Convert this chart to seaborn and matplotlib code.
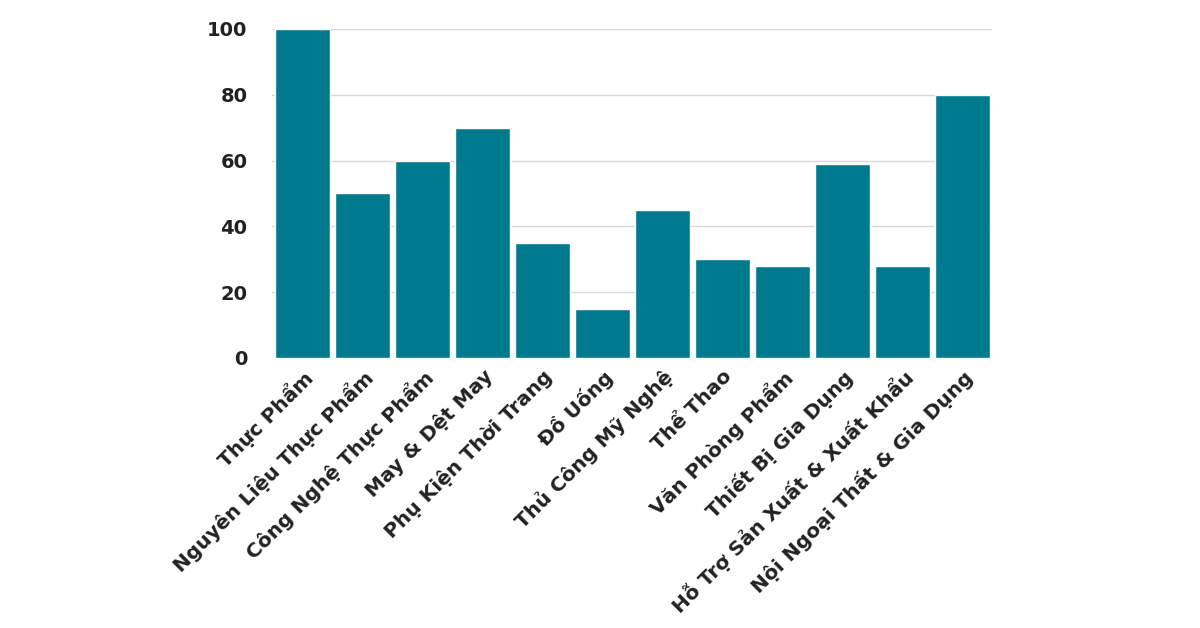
import matplotlib
matplotlib.use("Agg")
import matplotlib.pyplot as plt
import seaborn as sns
import pandas as pd

categories = ["Thực Phẩm", "Nguyên Liệu Thực Phẩm", "Công Nghệ Thực Phẩm", "May & Dệt May",
              "Phụ Kiện Thời Trang", "Đồ Uống", "Thủ Công Mỹ Nghệ", "Thể Thao",
              "Văn Phòng Phẩm", "Thiết Bị Gia Dụng", "Hỗ Trợ Sản Xuất & Xuất Khẩu",
              "Nội Ngoại Thất & Gia Dụng"]
values = [100, 50, 60, 70, 35, 15, 45, 30, 28, 59, 28, 80]
yticks = [0, 20, 40, 60, 80, 100]

sns.set_theme(style="white")
plt.rcParams['font.family'] = ['DejaVu Sans']

df = pd.DataFrame({"cat": categories, "val": values})
fig = plt.figure(figsize=(12, 6.28), dpi=100)
ax = fig.add_axes([0.227, 0.430, 0.600, 0.524])
sns.barplot(data=df, x="cat", y="val", color="#007A8E", saturation=1, width=0.92, ax=ax, zorder=3)
ax.set_ylim(0, 100)
ax.set_yticks(yticks)
ax.set_xlim(-0.5, len(categories) - 0.5)
ax.yaxis.grid(True, color="#d9d9d9", linewidth=1, zorder=0)
ax.set_axisbelow(True)
for s in ax.spines.values():
    s.set_visible(False)
ax.set_xlabel("")
ax.set_ylabel("")
ax.tick_params(axis="y", pad=18, labelsize=14, length=0)
ax.tick_params(axis="x", labelsize=14.5, length=0, pad=6)
for t in ax.get_yticklabels():
    t.set_fontweight("bold")
    t.set_color("#222222")
for t in ax.get_xticklabels():
    t.set_rotation(45)
    t.set_ha("right")
    t.set_rotation_mode("anchor")
    t.set_fontweight("bold")
    t.set_color("#222222")
fig.savefig("out.png", dpi=100)
